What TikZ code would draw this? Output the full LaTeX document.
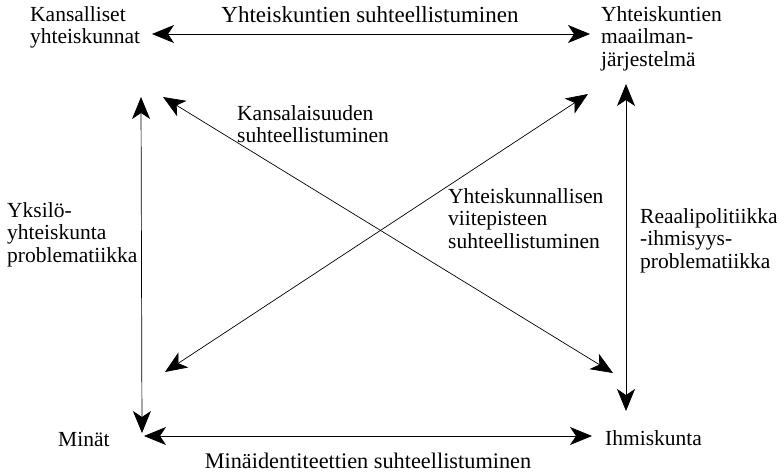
\documentclass[tikz,border=0pt]{standalone}
\usepackage{fontspec}
\setmainfont{Liberation Serif}
\usepackage{tikz}
\usetikzlibrary{positioning, arrows.meta}
\tikzset{>={Stealth[length=22pt, width=18pt, inset=6pt]}}
\tikzset{arrow line/.style={line width=0.7pt}}
\tikzset{label text/.style={align=left, inner sep=0pt, font=\fontsize{21.5}{22.5}\selectfont}}
\tikzset{edge text/.style={inner sep=0pt, font=\fontsize{23}{24}\selectfont}}

\begin{document}
\begin{tikzpicture}[x=1pt, y=-1pt]
    \useasboundingbox (0,0) rectangle (777,475);

    \node[label text, anchor=north west] (kansalliset) at (30,6) {Kansalliset\\yhteiskunnat};
    \node[label text, anchor=north west] (maailma) at (601,6) {Yhteiskuntien\\maailman-\\järjestelmä};
    \node[label text, anchor=base west] (minat) at (58,446) {Minät};
    \node[label text, anchor=base west] (ihmiskunta) at (605,445) {Ihmiskunta};

    \node[edge text, anchor=north] (yht-suht) at (370,6) {Yhteiskuntien suhteellistuminen};
    \node[edge text, anchor=base, font=\fontsize{22.3}{24}\selectfont] (min-suht) at (368,468) {Minäidentiteettien suhteellistuminen};
    \node[label text, anchor=north west] (kans-suht) at (237,105) {Kansalaisuuden\\suhteellistuminen};
    \node[label text, anchor=north west] (viite-suht) at (448,188) {Yhteiskunnallisen\\viitepisteen\\suhteellistuminen};
    \node[label text, anchor=north west] (yksilo) at (7,202) {Yksilö-\\yhteiskunta\\problematiikka};
    \node[label text, anchor=north west] (reaali) at (640,208) {Reaalipolitiikka\\-ihmisyys-\\problematiikka};

    \coordinate (top-l) at (152,34);
    \coordinate (top-r) at (590,34);
    \coordinate (bot-l) at (144,436);
    \coordinate (bot-r) at (592,436);
    \coordinate (left-t) at (141,97);
    \coordinate (left-b) at (142,433);
    \coordinate (right-t) at (626,84);
    \coordinate (right-b) at (626,411);
    \coordinate (diag-tl) at (163,97);
    \coordinate (diag-br) at (613,373);
    \coordinate (diag-bl) at (165,372);
    \coordinate (diag-tr) at (588,94);

    \draw [<->, arrow line] (top-l) to (top-r);
    \draw [<->, arrow line] (bot-l) to (bot-r);
    \draw [<->, arrow line] (left-t) to (left-b);
    \draw [<->, arrow line] (right-t) to (right-b);
    \draw [<->, arrow line] (diag-tl) to (diag-br);
    \draw [<->, arrow line] (diag-bl) to (diag-tr);
\end{tikzpicture}
\end{document}
